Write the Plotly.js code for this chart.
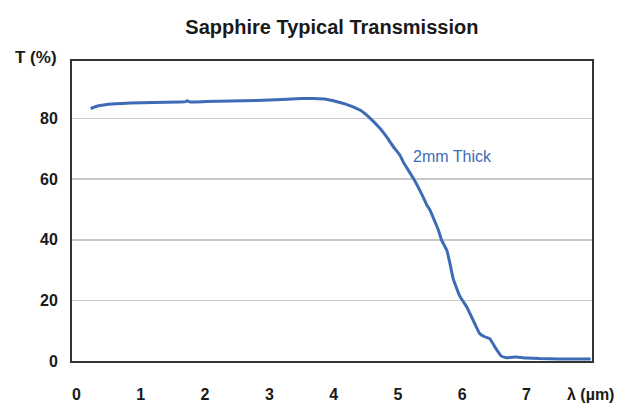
<!DOCTYPE html>
<html>
<head>
<meta charset="utf-8">
<script src="https://cdn.plot.ly/plotly-3.0.1.min.js"></script>
<style>html,body{margin:0;padding:0;background:#fff;}#chart{width:625px;height:411px;}</style>
</head>
<body>
<div id="chart"></div>
<script>
// Wavelength (µm)
const wavelength = [0.22, 0.3, 0.42, 0.6, 0.84, 1.2, 1.6, 1.7, 1.72, 1.77, 2.0, 2.4, 2.8, 3.2, 3.5, 3.7, 3.9, 4.1, 4.25, 4.41, 4.57, 4.72, 4.82, 4.93, 5.03, 5.08, 5.24, 5.34, 5.45, 5.5, 5.63, 5.68, 5.76, 5.81, 5.86, 5.96, 6.07, 6.12, 6.17, 6.27, 6.35, 6.43, 6.51, 6.61, 6.69, 6.84, 7.0, 7.2, 7.5, 8.0];
// Transmission (%)
const transmission = [83.3, 84.0, 84.5, 84.9, 85.1, 85.3, 85.5, 85.6, 85.9, 85.5, 85.6, 85.8, 86.0, 86.3, 86.6, 86.6, 86.3, 85.3, 84.3, 82.8, 80.1, 76.8, 74.1, 70.7, 68.0, 65.8, 60.3, 56.4, 51.5, 49.8, 43.2, 39.9, 36.6, 32.2, 27.2, 21.5, 17.9, 15.7, 13.5, 9.1, 8.0, 7.4, 4.6, 1.6, 1.1, 1.3, 1.0, 0.8, 0.7, 0.7];
const xTickVals = [0, 1, 2, 3, 4, 5, 6, 7, 8];
const xTickText = ["0", "1", "2", "3", "4", "5", "6", "7", "λ (µm)"];
const yTickVals = [0, 20, 40, 60, 80];
const seriesLabel = "2mm Thick";

const FONT = '"Liberation Sans", Arial, sans-serif';
const blue = '#3d6bb5';

const trace = {
  x: wavelength, y: transmission, type: 'scatter', mode: 'lines',
  line: {color: blue, width: 3, shape: 'spline', smoothing: 0.3},
  hoverinfo: 'skip', showlegend: false
};

const layout = {
  width: 625, height: 411,
  margin: {l: 72, r: 33, t: 61, b: 50, pad: 0},
  paper_bgcolor: '#fff', plot_bgcolor: '#fff',
  font: {family: FONT, color: '#1a1a1a', size: 15, weight: 'bold'},
  title: {text: 'Sapphire Typical Transmission', x: 0.531, xanchor: 'center', y: 0.935, yanchor: 'middle',
          font: {family: FONT, size: 20, color: '#1a1a1a', weight: 'bold'}},
  xaxis: {range: [-0.07, 8.02], tickvals: xTickVals, ticktext: xTickText, showgrid: false, zeroline: false,
          showline: true, linecolor: '#333', linewidth: 2, mirror: true,
          ticks: 'outside', ticklen: 18, tickcolor: 'rgba(0,0,0,0)',
          tickfont: {family: FONT, size: 16, color: '#1a1a1a', weight: 'bold'}},
  yaxis: {range: [0, 99], tickvals: yTickVals, showgrid: true, gridcolor: '#c8c8c8', gridwidth: 1.5, zeroline: false,
          showline: true, linecolor: '#333', linewidth: 2, mirror: true,
          ticks: 'outside', ticklen: 9, tickcolor: 'rgba(0,0,0,0)',
          tickfont: {family: FONT, size: 16, color: '#1a1a1a', weight: 'bold'}},
  annotations: [
    {text: 'T (%)', xref: 'paper', yref: 'paper', x: 0, y: 1, xanchor: 'right', yanchor: 'middle',
     xshift: -13, yshift: 4, showarrow: false, font: {family: FONT, size: 17, color: '#1a1a1a', weight: 'bold'}},
    {text: seriesLabel, xref: 'x', yref: 'y', x: 5.2, y: 67.5, xanchor: 'left', yanchor: 'middle',
     showarrow: false, font: {family: FONT, size: 16, color: blue, weight: 'normal'}}
  ]
};

Plotly.newPlot('chart', [trace], layout, {staticPlot: true, displayModeBar: false});
</script>
</body>
</html>
